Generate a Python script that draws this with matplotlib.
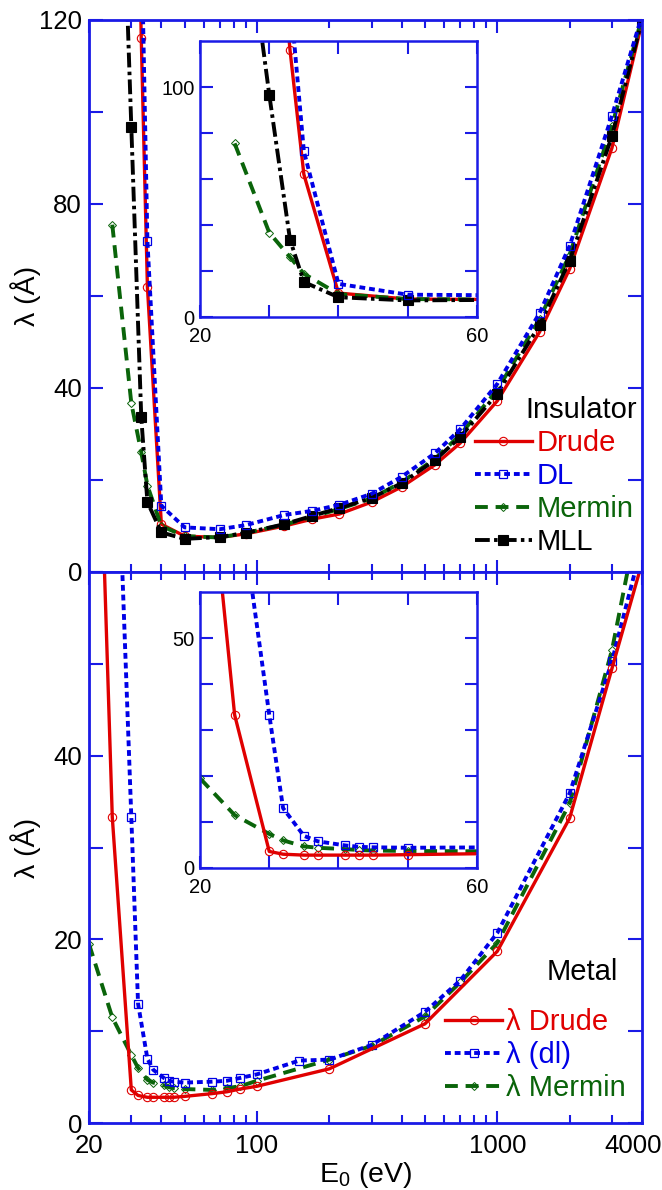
import matplotlib.pyplot as plt
from matplotlib.ticker import FixedLocator, FixedFormatter, NullFormatter
from matplotlib.transforms import ScaledTranslation

plt.rcParams['font.family'] = ['Liberation Sans', 'DejaVu Sans']
plt.rcParams['mathtext.fontset'] = 'custom'
plt.rcParams['mathtext.rm'] = 'Liberation Sans'
plt.rcParams['mathtext.it'] = 'Liberation Sans:italic'

RED = '#e00000'
BLUE = '#0000e6'
GREEN = '#0a640a'
AXC = '#1a1ae6'

# insulator: inelastic mean free path (A) vs primary energy (eV)
e_ins_drude = [32, 33, 35, 40, 50, 70, 90, 130, 170, 220, 300, 400, 550, 700,
               1000, 1500, 2000, 3000, 4000]
lam_ins_drude = [150, 116, 62, 10.4, 7.8, 7.5, 8.3, 10.0, 11.5, 12.6, 15.2,
                 18.5, 23.3, 28.0, 37.2, 52.2, 65.9, 92.2, 119.5]

e_ins_dl = [33, 35, 40, 50, 70, 90, 130, 170, 220, 300, 400, 550, 700, 1000,
            1500, 2000, 3000, 4000]
lam_ins_dl = [140, 72, 14.4, 9.7, 9.3, 10.2, 12.4, 13.3, 14.6, 17.0, 20.7,
              25.8, 31.0, 40.9, 56.3, 70.9, 99.2, 121]

e_ins_mermin = [25, 30, 33, 35, 40, 50, 70, 90, 130, 170, 220, 300, 400, 550,
                700, 1000, 1500, 2000, 3000, 4000]
lam_ins_mermin = [75.5, 36.7, 26.0, 18.8, 10.0, 7.8, 7.5, 8.5, 10.3, 12.0,
                  13.7, 16.0, 19.5, 24.6, 29.8, 39.6, 55.0, 69.0, 97.0, 120.5]

e_ins_mll = [28.5, 30, 33, 35, 40, 50, 70, 90, 130, 170, 220, 300, 400, 550,
             700, 1000, 1500, 2000, 3000, 4000]
lam_ins_mll = [131, 96.7, 33.6, 15.2, 8.6, 7.2, 7.6, 8.5, 10.4, 12.2, 13.9,
               16.1, 19.3, 24.3, 29.3, 38.8, 53.7, 67.7, 94.8, 120]

# metal
e_met_drude = [22.5, 25, 30, 32, 35, 37, 41, 43, 45, 50, 65, 75, 85, 100,
               200, 500, 1000, 2000, 3000, 4000]
lam_met_drude = [71, 33.3, 3.6, 3.0, 2.8, 2.8, 2.8, 2.8, 2.8, 2.9, 3.2, 3.4,
                 3.7, 4.0, 5.9, 10.8, 18.7, 33.2, 49.5, 61]

e_met_dl = [27, 30, 32, 35, 37, 41, 43, 45, 50, 65, 75, 85, 100, 150, 200,
            300, 500, 700, 1000, 2000, 3000, 4000]
lam_met_dl = [66, 33.3, 13.0, 7.0, 5.8, 4.9, 4.6, 4.5, 4.4, 4.5, 4.6, 4.9,
              5.3, 6.8, 6.9, 8.5, 12.1, 15.5, 20.7, 35.9, 50.3, 63]

e_met_mermin = [20, 25, 30, 32, 35, 37, 41, 43, 45, 50, 65, 75, 85, 100, 200,
                300, 500, 700, 1000, 2000, 3000, 4000]
lam_met_mermin = [19.5, 11.5, 7.4, 6.0, 4.7, 4.4, 4.1, 3.9, 3.8, 3.7, 3.6,
                  3.8, 4.0, 4.6, 6.9, 8.4, 11.6, 15.3, 19.6, 34.8, 51.5, 68]

# line styles per model
STY = {
    'drude': dict(color=RED, lw=2.4, ls='-', marker='o', ms=6, mfc='none',
                  mec=RED, mew=0.8),
    'dl': dict(color=BLUE, lw=2.8, dashes=(1.5, 1.0), marker='s', ms=5.5,
               mfc='none', mec=BLUE, mew=0.9),
    'mermin': dict(color=GREEN, lw=2.8, dashes=(3.3, 2.0), marker='D', ms=4.5,
                   mfc='none', mec=GREEN, mew=0.7),
    'mll': dict(color='black', lw=2.8, dashes=(3.8, 1.1, 0.9, 1.1), marker='s',
                ms=6.5, mfc='black', mec='black', mew=0.8),
}

fig = plt.figure(figsize=(6.62, 11.9), dpi=100)
ax1 = fig.add_axes([0.13444, 0.51933, 0.83535, 0.46387])
ax2 = fig.add_axes([0.13444, 0.05630, 0.83535, 0.46303])
in1 = fig.add_axes([0.30211, 0.73361, 0.41843, 0.23193])
in2 = fig.add_axes([0.30211, 0.27059, 0.41843, 0.23193])

xmajor = [20, 100, 1000, 4000]
xminor = [30, 40, 50, 60, 70, 80, 90, 200, 300, 400, 500, 600, 700, 800,
          900, 2000, 3000]


def frame(ax, lw, col=AXC):
    for s in ax.spines.values():
        s.set_color(col)
        s.set_linewidth(lw)


def main_axes(ax, ymaj, ylabs, ymin, ymax):
    ax.set_xscale('log')
    ax.set_xlim(20, 4000)
    ax.set_ylim(ymin, ymax)
    ax.xaxis.set_major_locator(FixedLocator(xmajor))
    ax.xaxis.set_major_formatter(FixedFormatter([str(v) for v in xmajor]))
    ax.xaxis.set_minor_locator(FixedLocator(xminor))
    ax.xaxis.set_minor_formatter(NullFormatter())
    ax.yaxis.set_major_locator(FixedLocator(ymaj))
    ax.yaxis.set_major_formatter(FixedFormatter(ylabs))
    frame(ax, 2.0)
    ax.tick_params(which='both', direction='in', top=True, right=True,
                   color=AXC, labelcolor='black', width=1.5, labelsize=18.5,
                   pad=5)
    ax.tick_params(axis='x', which='major', length=9, pad=8)
    ax.tick_params(axis='x', which='minor', length=6)
    ax.tick_params(axis='y', which='both', length=10)
    ax.set_ylabel('λ (Å)', fontsize=20.5)
    ax.yaxis.set_label_coords(-0.087, 0.5)


def inset_axes(ax, ymax, ymaj, ymin_ticks):
    ax.set_facecolor('white')
    ax.set_xlim(20, 60)
    ax.set_ylim(0, ymax)
    ax.xaxis.set_major_locator(FixedLocator([20, 60]))
    ax.xaxis.set_minor_locator(FixedLocator([30, 40, 50]))
    ax.yaxis.set_major_locator(FixedLocator(ymaj))
    ax.yaxis.set_minor_locator(FixedLocator(ymin_ticks))
    frame(ax, 1.8)
    ax.tick_params(which='both', direction='in', top=True, right=True,
                   color=AXC, labelcolor='black', width=1.5, length=9,
                   labelsize=14.5, pad=4)
    ax.tick_params(axis='x', which='major', pad=7)


# top: insulator
main_axes(ax1, [0, 40, 80, 120], ['0', '40', '80', '120'], 0, 120)
ax1.yaxis.set_minor_locator(FixedLocator([20, 60, 100]))
ax1.tick_params(axis='x', labelbottom=False)

inset_axes(in1, 120, [0, 100], [20, 40, 60, 80])

for ax in (ax1, in1):
    ax.plot(e_ins_drude, lam_ins_drude, label='Drude', **STY['drude'])
    ax.plot(e_ins_mermin, lam_ins_mermin, label='Mermin', **STY['mermin'])
    ax.plot(e_ins_mll, lam_ins_mll, label='MLL', **STY['mll'])
    ax.plot(e_ins_dl, lam_ins_dl, label='DL', **STY['dl'])

h = dict(zip([l.get_label() for l in ax1.get_lines()], ax1.get_lines()))
order = ['Drude', 'DL', 'Mermin', 'MLL']
leg1 = ax1.legend([h[k] for k in order], order, loc='upper left',
                  bbox_to_anchor=(0.698, 0.259), frameon=False, fontsize=21,
                  borderpad=0, borderaxespad=0, handlelength=1.95,
                  handletextpad=0.15, labelspacing=0.17, numpoints=1)
for txt, k in zip(leg1.get_texts(), order):
    txt.set_color(h[k].get_color())
ax1.text(0.79, 0.293, 'Insulator', transform=ax1.transAxes, fontsize=21,
         va='center', ha='left')

# bottom: metal
main_axes(ax2, [0, 20, 40, 60], ['0', '20', '40', ''], 0, 60)
ax2.yaxis.set_minor_locator(FixedLocator([10, 30, 50]))
ax2.set_xlabel(r'$\mathrm{E_0}$ (eV)', fontsize=20.5, labelpad=1)

inset_axes(in2, 60, [0, 50], [10, 20, 30, 40])

for ax in (ax2, in2):
    ax.plot(e_met_mermin, lam_met_mermin, label='λ Mermin', **STY['mermin'])
    ax.plot(e_met_dl, lam_met_dl, label='λ (dl)', **STY['dl'])
    ax.plot(e_met_drude, lam_met_drude, label='λ Drude', **STY['drude'])

h2 = dict(zip([l.get_label() for l in ax2.get_lines()], ax2.get_lines()))
order2 = ['λ Drude', 'λ (dl)', 'λ Mermin']
leg2 = ax2.legend([h2[k] for k in order2], order2, loc='upper left',
                  bbox_to_anchor=(0.644, 0.209), frameon=False, fontsize=21,
                  borderpad=0, borderaxespad=0, handlelength=1.95,
                  handletextpad=0.15, labelspacing=0.17, numpoints=1)
for txt, k in zip(leg2.get_texts(), order2):
    txt.set_color(h2[k].get_color())
ax2.text(0.828, 0.274, 'Metal', transform=ax2.transAxes, fontsize=21,
         va='center', ha='left')

# keep the 4000 label inside the figure
lbl = ax2.xaxis.get_major_ticks()[-1].label1
lbl.set_horizontalalignment('right')
lbl.set_transform(lbl.get_transform() +
                  ScaledTranslation(0.2, 0, fig.dpi_scale_trans))

fig.savefig('out.png', dpi=100)
